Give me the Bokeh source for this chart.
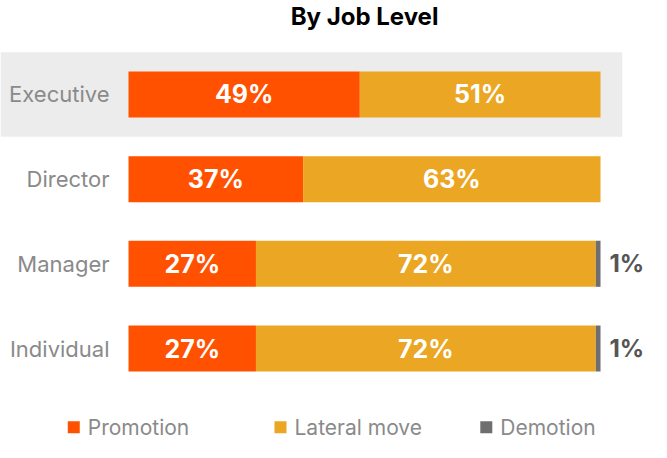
from bokeh.plotting import figure
from bokeh.models import ColumnDataSource, FactorRange, Range1d
from bokeh.transform import dodge
from bokeh.core.properties import value
from bokeh.embed import file_html
from bokeh.resources import INLINE

# ---- data ----
categories = ["Executive", "Director", "Manager", "Individual"]
promotion = [49, 37, 27, 27]
lateral = [51, 63, 72, 72]
demotion = [0, 0, 1, 1]
series_names = ["Promotion", "Lateral move", "Demotion"]
title_text = "By Job Level"
highlight = ["Executive"]

# ---- style ----
C_PROMO = "#FF5100"
C_LAT = "#EBA623"
C_DEM = "#6E6E6E"
C_BAND = "#ECECEC"
C_CAT = "#8A8A8A"
C_DEMLBL = "#555555"
FONT = "Inter"
series_colors = [C_PROMO, C_LAT, C_DEM]

W, H = 651, 442

lat_left = promotion
lat_right = [a + b for a, b in zip(promotion, lateral)]
dem_right = [a + b for a, b in zip(lat_right, demotion)]

src = ColumnDataSource(dict(
    cat=categories,
    promo=promotion,
    lat_left=lat_left,
    lat_right=lat_right,
    dem_right=dem_right,
    promo_mid=[v / 2 for v in promotion],
    lat_mid=[a + b / 2 for a, b in zip(promotion, lateral)],
    promo_lbl=[f"{v}%" for v in promotion],
    lat_lbl=[f"{v}%" for v in lateral],
))
dem_idx = [i for i, v in enumerate(demotion) if v > 0]
dem_src = ColumnDataSource(dict(
    cat=[categories[i] for i in dem_idx],
    x=[dem_right[i] for i in dem_idx],
    lbl=[f"{demotion[i]}%" for i in dem_idx],
))

x_range = Range1d(-27.12, 110.8)
y_range = FactorRange(factors=categories[::-1], range_padding=0.305)
p = figure(width=W, height=H, output_backend="svg", toolbar_location=None,
           y_range=y_range, x_range=x_range,
           x_axis_location=None, y_axis_location=None,
           min_border_top=0, min_border_bottom=0, min_border_left=0, min_border_right=0)
p.grid.visible = False
p.outline_line_color = None
p.background_fill_color = "white"
p.border_fill_color = "white"

# highlight band
p.hbar(y=highlight, left=x_range.start, right=104.6, height=1.0,
       fill_color=C_BAND, line_color=None)

BAR_H = 0.543
p.hbar(y="cat", left=0, right="promo", height=BAR_H, source=src,
       fill_color=C_PROMO, line_color=None)
p.hbar(y="cat", left="lat_left", right="lat_right", height=BAR_H, source=src,
       fill_color=C_LAT, line_color=None)
p.hbar(y="cat", left="lat_right", right="dem_right", height=BAR_H, source=src,
       fill_color=C_DEM, line_color=None)

# category labels
p.text(x=0, y="cat", text="cat", source=src, x_offset=-19,
       text_align="right", text_baseline="middle",
       text_font=value(FONT), text_font_size="22px", text_color=C_CAT)

# value labels
for xcol, tcol in (("promo_mid", "promo_lbl"), ("lat_mid", "lat_lbl")):
    p.text(x=xcol, y="cat", text=tcol, source=src,
           text_align="center", text_baseline="middle",
           text_font=value(FONT), text_font_style="bold",
           text_font_size="25px", text_color="white")

p.text(x="x", y="cat", text="lbl", source=dem_src, x_offset=9,
       text_align="left", text_baseline="middle",
       text_font=value(FONT), text_font_style="bold",
       text_font_size="24px", text_color=C_DEMLBL)

# title (centred over the bars, above the top row)
title_src = ColumnDataSource(dict(cat=[categories[0]], x=[50], t=[title_text]))
p.text(x="x", y=dodge("cat", 0.92, range=y_range), text="t", source=title_src,
       text_align="center", text_baseline="middle",
       text_font=value(FONT), text_font_style="bold", text_font_size="24px",
       text_color="black")

# legend (below the last row)
leg_src = ColumnDataSource(dict(
    cat=[categories[-1]] * len(series_names),
    x=[-11.6, 32.2, 75.8],
    name=series_names,
    color=series_colors,
))
leg_y = dodge("cat", -0.93, range=y_range)
p.rect(x="x", y=leg_y, width=12, height=12, source=leg_src,
       width_units="screen", height_units="screen",
       fill_color="color", line_color=None)
p.text(x="x", y=leg_y, text="name", source=leg_src, x_offset=14,
       text_align="left", text_baseline="middle",
       text_font=value(FONT), text_font_size="21px", text_color=C_CAT)

open("out.html", "w").write(file_html(p, INLINE))
